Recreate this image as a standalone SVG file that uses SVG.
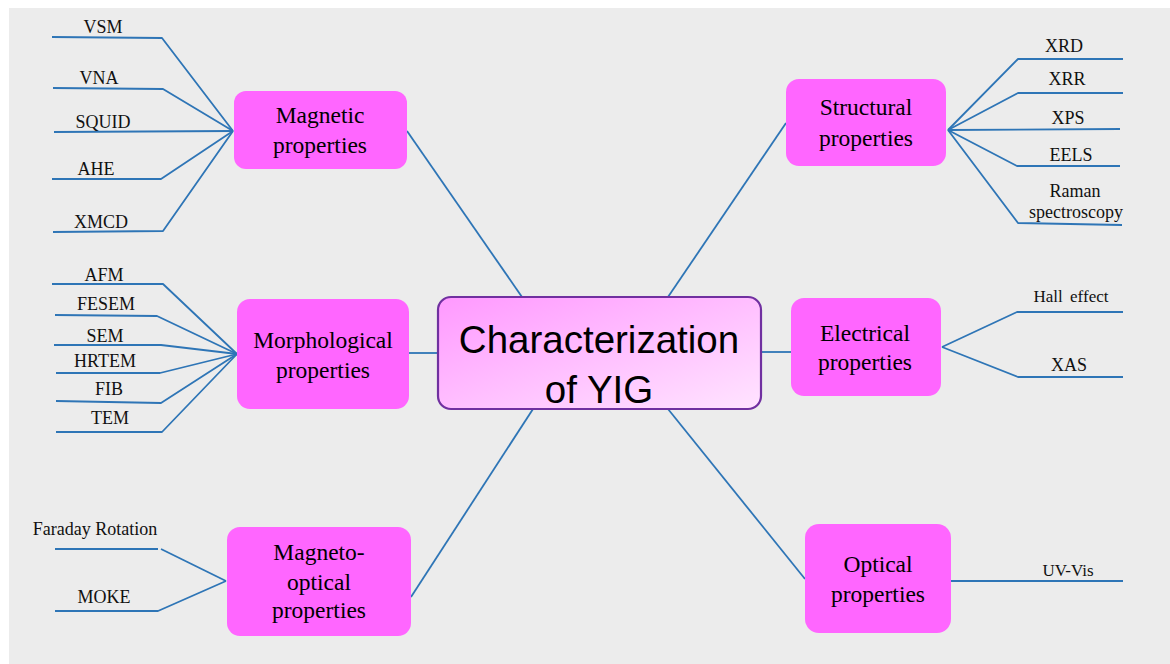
<svg xmlns="http://www.w3.org/2000/svg" width="1170" height="664" viewBox="0 0 1170 664">
<defs>
<linearGradient id="cg" x1="0" y1="0" x2="1" y2="1">
<stop offset="0" stop-color="#ff99ff"/>
<stop offset="1" stop-color="#ffe4ff"/>
</linearGradient>
<style>
.bg{fill:#ececec}
.node{fill:#ff66ff}
.center{fill:url(#cg);stroke:#7030a0;stroke-width:2.2}
.nl{font-family:"Liberation Serif","Times New Roman",serif;font-size:23.5px;fill:#000;text-anchor:middle}
.ct{font-family:"Liberation Sans",Arial,sans-serif;font-size:38.5px;fill:#000;text-anchor:middle}
.lb{font-family:"Liberation Serif","Times New Roman",serif;font-size:18px;fill:#111;text-anchor:middle}
.lbs{font-family:"Liberation Serif","Times New Roman",serif;font-size:17px;fill:#111;text-anchor:middle}
.c{fill:none;stroke:#2e75b6;stroke-width:1.8;stroke-linejoin:round}
</style>
</defs>
<rect x="0" y="0" width="1170" height="664" fill="#ffffff"/>
<rect class="bg" x="9" y="8" width="1161" height="656"/>

<g id="connectors">
<path class="c" d="M407,131 L522,297"/>
<path class="c" d="M668,297 L786,123"/>
<path class="c" d="M409,353 L438,353"/>
<path class="c" d="M761,352 L791,352"/>
<path class="c" d="M533,409 L411,597"/>
<path class="c" d="M668,409 L805,579"/>
<path class="c" d="M52,37 L162,38 L233,131"/>
<path class="c" d="M53,88 L163,89 L233,131"/>
<path class="c" d="M54,132 L233,131"/>
<path class="c" d="M52,179 L161,179 L233,131"/>
<path class="c" d="M53,232 L163,231 L233,131"/>
<path class="c" d="M52,284 L163,284 L237,354"/>
<path class="c" d="M55,315 L157,316 L237,354"/>
<path class="c" d="M54,345 L161,345 L237,354"/>
<path class="c" d="M56,373 L160,373 L237,354"/>
<path class="c" d="M56,401 L161,403 L237,354"/>
<path class="c" d="M56,432 L162,432 L237,354"/>
<path class="c" d="M55,549 L158,549"/>
<path class="c" d="M161,549 L226,581"/>
<path class="c" d="M55,611 L158,611 L226,581"/>
<path class="c" d="M948,130 L1018,59 L1123,59"/>
<path class="c" d="M948,130 L1018,93 L1123,93"/>
<path class="c" d="M948,130 L1120,129"/>
<path class="c" d="M948,130 L1017,166 L1120,166"/>
<path class="c" d="M948,130 L1018,223 L1122,225"/>
<path class="c" d="M942,347 L1017,312 L1123,312"/>
<path class="c" d="M942,347 L1018,377 L1123,377"/>
<path class="c" d="M949,581 L1123,581"/>
</g>

<g id="center">
<rect class="center" x="438" y="297" width="323" height="112" rx="13"/>
<text class="ct" x="599" y="353">Characterization</text>
<text class="ct" x="599" y="403">of YIG</text>
</g>

<g id="magnetic">
<rect class="node" x="234" y="91" width="173" height="78" rx="12"/>
<text class="nl" x="320" y="123">Magnetic</text>
<text class="nl" x="320" y="153">properties</text>
</g>

<g id="morphological">
<rect class="node" x="237" y="299" width="172" height="110" rx="13"/>
<text class="nl" x="323" y="348">Morphological</text>
<text class="nl" x="323" y="378">properties</text>
</g>

<g id="magneto-optical">
<rect class="node" x="227" y="527" width="184" height="109" rx="13"/>
<text class="nl" x="319" y="560">Magneto-</text>
<text class="nl" x="319" y="590">optical</text>
<text class="nl" x="319" y="618">properties</text>
</g>

<g id="structural">
<rect class="node" x="786" y="79" width="160" height="87" rx="13"/>
<text class="nl" x="866" y="115">Structural</text>
<text class="nl" x="866" y="146">properties</text>
</g>

<g id="electrical">
<rect class="node" x="791" y="298" width="150" height="98" rx="13"/>
<text class="nl" x="865" y="341">Electrical</text>
<text class="nl" x="865" y="370">properties</text>
</g>

<g id="optical">
<rect class="node" x="805" y="524" width="146" height="109" rx="14"/>
<text class="nl" x="878" y="572">Optical</text>
<text class="nl" x="878" y="602">properties</text>
</g>

<g id="labels-magnetic">
<text class="lb" x="103" y="33">VSM</text>
<text class="lb" x="99" y="84">VNA</text>
<text class="lb" x="103" y="128">SQUID</text>
<text class="lb" x="96" y="175">AHE</text>
<text class="lb" x="101" y="228">XMCD</text>
</g>

<g id="labels-morphological">
<text class="lb" x="104" y="281">AFM</text>
<text class="lb" x="106" y="310">FESEM</text>
<text class="lb" x="105" y="342">SEM</text>
<text class="lb" x="105" y="367">HRTEM</text>
<text class="lb" x="109" y="395">FIB</text>
<text class="lb" x="110" y="424">TEM</text>
</g>

<g id="labels-magneto-optical">
<text class="lb" x="95" y="535">Faraday Rotation</text>
<text class="lb" x="104" y="603">MOKE</text>
</g>

<g id="labels-structural">
<text class="lb" x="1064" y="52">XRD</text>
<text class="lb" x="1067" y="85">XRR</text>
<text class="lb" x="1068" y="124">XPS</text>
<text class="lb" x="1071" y="161">EELS</text>
<text class="lb" x="1075" y="197">Raman</text>
<text class="lb" x="1076" y="218">spectroscopy</text>
</g>

<g id="labels-electrical">
<text class="lbs" x="1071" y="302" word-spacing="3">Hall effect</text>
<text class="lb" x="1069" y="371">XAS</text>
</g>

<g id="labels-optical">
<text class="lbs" x="1068" y="576">UV-Vis</text>
</g>
</svg>
